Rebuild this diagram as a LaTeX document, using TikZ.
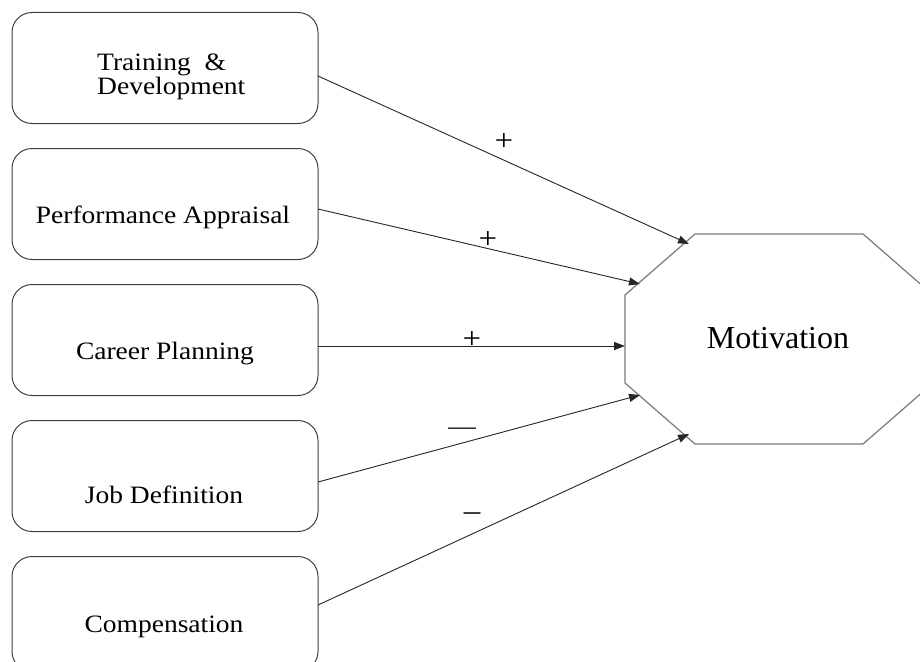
\documentclass[tikz,border=0pt]{standalone}
\usepackage{fontspec}
\setmainfont{Liberation Serif}
\newfontfamily\boxfont[FakeStretch=1.1]{Liberation Serif}
\usetikzlibrary{arrows.meta,calc}
\definecolor{boxline}{HTML}{404040}
\definecolor{octline}{HTML}{7A7A7A}
\begin{document}
\begin{tikzpicture}[x=1pt,y=-1pt,
  factor/.style={draw=boxline,line width=1pt,rounded corners=20pt,
    minimum width=306pt,minimum height=111pt,inner sep=0pt,anchor=north},
  ftext/.style={font=\fontsize{25}{25}\selectfont\boxfont,inner sep=0pt},
  sign/.style={font=\fontsize{30}{30}\selectfont\boxfont,inner sep=0pt},
  link/.style={draw=black!85,line width=0.9pt,-{Triangle[length=11pt,width=8pt]}}]
\useasboundingbox (0,0) rectangle (920,661);
\clip (0,0) rectangle (920,661);
\fill[white] (0,0) rectangle (920,661);
% factor boxes
\node[factor] (b1) at (165,12) {};
\node[factor] (b2) at (165,148) {};
\node[factor] (b3) at (165,284) {};
\node[factor] (b4) at (165,420) {};
\node[factor,minimum height=115pt] (b5) at (165,556) {};
% texts
\node[ftext,anchor=base west,align=left] (t1) at (97,94) {Training\ \ \&\\[-1pt]Development};
\node[ftext,anchor=base] (t2) at (163,223) {Performance Appraisal};
\node[ftext,anchor=base] (t3) at (165,359) {Career Planning};
\node[ftext,anchor=base] (t4) at (164,503) {Job Definition};
\node[ftext,anchor=base] (t5) at (164,632) {Compensation};
% octagon
\coordinate (o1) at (695,234);
\coordinate (o2) at (863,234);
\coordinate (o3) at (933,295);
\coordinate (o4) at (933,383);
\coordinate (o5) at (863,444);
\coordinate (o6) at (695,444);
\coordinate (o7) at (625,383);
\coordinate (o8) at (625,295);
\draw[octline,line width=1.2pt] (o1)--(o2)--(o3)--(o4)--(o5)--(o6)--(o7)--(o8)--cycle;
\node[font=\fontsize{32}{32}\selectfont,inner sep=0pt,anchor=base] (mot) at (778,348) {Motivation};
% connector end points
\coordinate (s1) at (318,76);
\coordinate (s2) at (318,209);
\coordinate (s3) at (318,346);
\coordinate (s4) at (318,482);
\coordinate (s5) at (318,605);
\coordinate (e1) at (689,244);
\coordinate (e2) at (640,284);
\coordinate (e3) at (625,346);
\coordinate (e4) at (640,395);
\coordinate (e5) at (689,434);
\draw[link] (s1) -- (e1);
\draw[link] (s2) -- (e2);
\draw[link] (s3) -- (e3);
\draw[link] (s4) -- (e4);
\draw[link] (s5) -- (e5);
% signs
\node[sign] (p1) at (504,142) {+};
\node[sign] (p2) at (488,240) {+};
\node[sign] (p3) at (472,340) {+};
\node[ftext] (m1) at (462,431) {—};
\node[sign] (m2) at (472,517) {–};
\end{tikzpicture}
\end{document}
